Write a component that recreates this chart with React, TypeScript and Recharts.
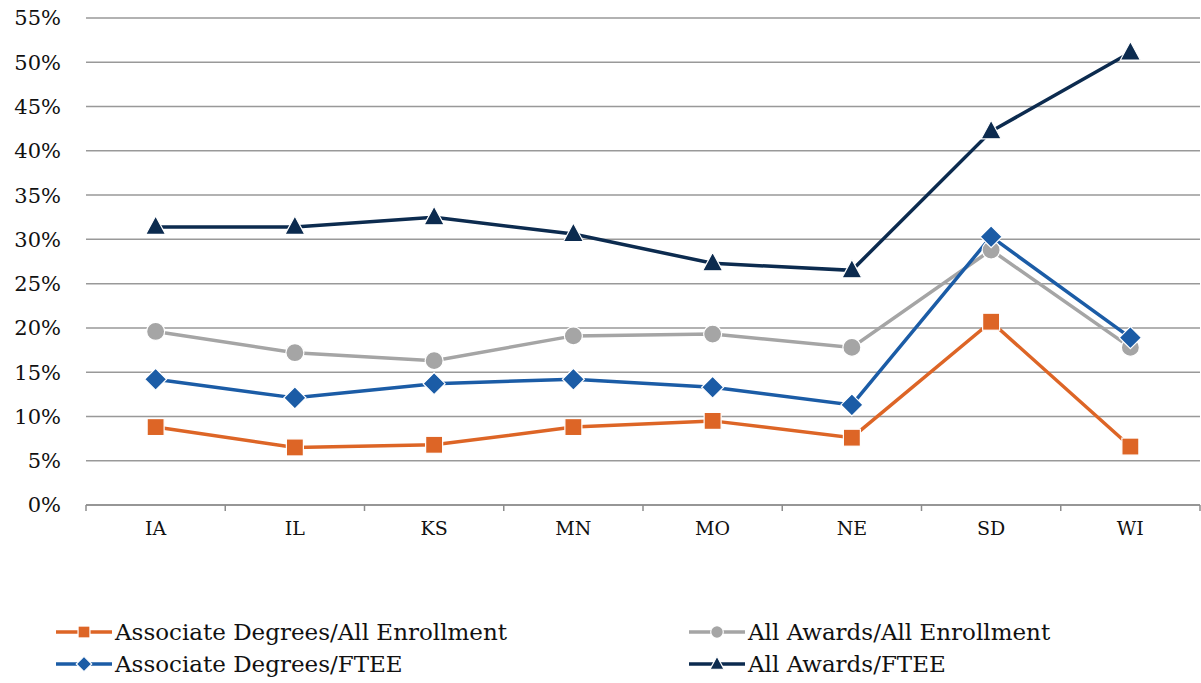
import React from "react";
import { LineChart, Line, XAxis, YAxis, CartesianGrid } from "recharts";

// states along the x axis
const states = ["IA", "IL", "KS", "MN", "MO", "NE", "SD", "WI"];

// ratios in percent
const assocAllEnroll = [8.8, 6.5, 6.8, 8.8, 9.5, 7.6, 20.7, 6.6];
const awardsAllEnroll = [19.6, 17.2, 16.3, 19.1, 19.3, 17.8, 28.8, 17.8];
const assocFtee = [14.2, 12.1, 13.7, 14.2, 13.3, 11.3, 30.3, 18.9];
const awardsFtee = [31.4, 31.4, 32.5, 30.6, 27.3, 26.5, 42.2, 51.1];

const yTicks = [0, 5, 10, 15, 20, 25, 30, 35, 40, 45, 50, 55];

const series = [
  { key: "assocAll", name: "Associate Degrees/All Enrollment", color: "#DD6526", marker: "square", values: assocAllEnroll },
  { key: "awardsAll", name: "All Awards/All Enrollment", color: "#A5A5A5", marker: "circle", values: awardsAllEnroll },
  { key: "assocFtee", name: "Associate Degrees/FTEE", color: "#1B5CA6", marker: "diamond", values: assocFtee },
  { key: "awardsFtee", name: "All Awards/FTEE", color: "#0C2B4F", marker: "triangle", values: awardsFtee },
];

const data = states.map((s, i) => {
  const row: Record<string, number | string> = { state: s };
  for (const sr of series) row[sr.key] = sr.values[i];
  return row;
});

const FONT = '"DejaVu Serif", serif';
const W = 1201;
const H = 683;
const PLOT_LEFT = 86;
const PLOT_RIGHT = 1200;
const BAND = (PLOT_RIGHT - PLOT_LEFT) / states.length;

function Marker({ type, cx, cy, color, scale = 1 }: { type: string; cx: number; cy: number; color: string; scale?: number }) {
  const s = scale;
  if (type === "square") {
    const h = 8.5 * s;
    return <rect x={cx - h} y={cy - h} width={h * 2} height={h * 2} fill={color} stroke="#fff" strokeWidth={1.2} />;
  }
  if (type === "circle") {
    return <circle cx={cx} cy={cy} r={9 * s} fill={color} stroke="#fff" strokeWidth={1.2} />;
  }
  if (type === "diamond") {
    const h = 11 * s;
    return (
      <polygon
        points={`${cx},${cy - h} ${cx + h},${cy} ${cx},${cy + h} ${cx - h},${cy}`}
        fill={color}
        stroke="#fff"
        strokeWidth={1.2}
      />
    );
  }
  const h = 10 * s;
  return (
    <polygon
      points={`${cx},${cy - h * 1.1} ${cx + h},${cy + h * 0.75} ${cx - h},${cy + h * 0.75}`}
      fill={color}
      stroke="#fff"
      strokeWidth={1.2}
    />
  );
}

// category labels plus the small tick marks that sit between categories
function XTick(props: any) {
  const { x, y, payload, index } = props;
  const axisY = y - 17;
  return (
    <g>
      <line x1={x - BAND / 2} y1={axisY} x2={x - BAND / 2} y2={axisY + 6} stroke="#8c8c8c" strokeWidth={1.5} />
      {index === states.length - 1 && (
        <line x1={x + BAND / 2} y1={axisY} x2={x + BAND / 2} y2={axisY + 6} stroke="#8c8c8c" strokeWidth={1.5} />
      )}
      <text x={x} y={y} dy={13} textAnchor="middle" fontFamily={FONT} fontSize={19} fill="#111">
        {payload.value}
      </text>
    </g>
  );
}

function LegendItem({ s }: { s: (typeof series)[number] }) {
  return (
    <div style={{ display: "flex", alignItems: "center", height: 32 }}>
      <svg width={58} height={22} style={{ marginRight: 2 }}>
        <line x1={1} y1={11} x2={57} y2={11} stroke={s.color} strokeWidth={3.5} />
        <Marker type={s.marker} cx={29} cy={11} color={s.color} scale={0.7} />
      </svg>
      <span style={{ fontFamily: FONT, fontSize: 23, color: "#111" }}>{s.name}</span>
    </div>
  );
}

export default function App() {
  return (
    <div style={{ position: "absolute", left: 0, top: 0, width: W, height: H, background: "#fff" }}>
      <LineChart width={W} height={H} data={data} margin={{ top: 18, right: 1, left: 0, bottom: 0 }}>
        <CartesianGrid vertical={false} stroke="#999" strokeWidth={1.5} />
        <XAxis
          dataKey="state"
          height={178}
          padding={{ left: BAND / 2, right: BAND / 2 }}
          stroke="#8c8c8c"
          strokeWidth={1.5}
          tickLine={false}
          tickSize={0}
          tickMargin={17}
          tick={<XTick />}
          interval={0}
        />
        <YAxis
          width={PLOT_LEFT}
          domain={[0, 55]}
          ticks={yTicks}
          axisLine={false}
          tickLine={false}
          tickSize={0}
          tickMargin={25}
          tickFormatter={(v: number) => `${v}%`}
          tick={{ fontFamily: FONT, fontSize: 21, fill: "#111" }}
        />
        {series.map((s) => (
          <Line
            key={s.key}
            dataKey={s.key}
            name={s.name}
            type="linear"
            stroke={s.color}
            strokeWidth={3.5}
            isAnimationActive={false}
            activeDot={false}
            dot={(p: any) => <Marker key={`${s.key}-${p.index}`} type={s.marker} cx={p.cx} cy={p.cy} color={s.color} />}
          />
        ))}
      </LineChart>
      <div style={{ position: "absolute", left: 55, top: 616 }}>
        <LegendItem s={series[0]} />
        <LegendItem s={series[2]} />
      </div>
      <div style={{ position: "absolute", left: 688, top: 616 }}>
        <LegendItem s={series[1]} />
        <LegendItem s={series[3]} />
      </div>
    </div>
  );
}
